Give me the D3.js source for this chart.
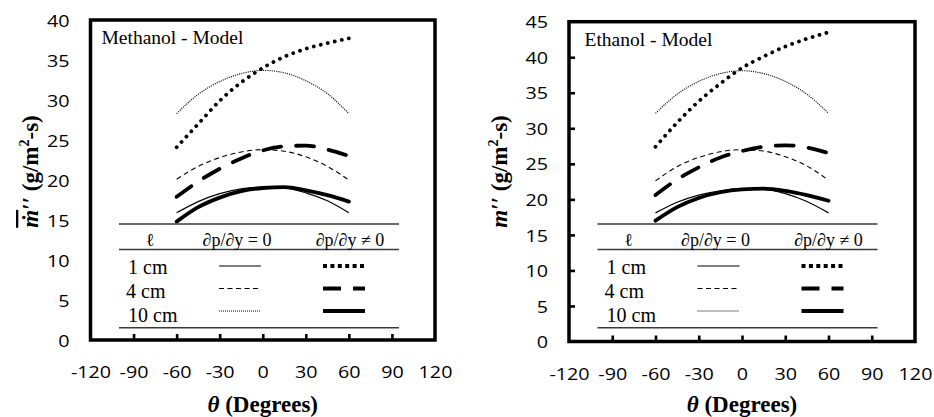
<!DOCTYPE html>
<html><head><meta charset="utf-8">
<script src="https://cdn.jsdelivr.net/npm/d3@7"></script>
<style>body{margin:0;background:#fff} svg{display:block}</style>
</head><body><svg id="c" width="934" height="417"></svg>
<script>
// ---------- data ----------
const angles = [-60, -45, -30, -15, 0, 15, 30, 45, 60];
const xTickValues = [-120, -90, -60, -30, 0, 30, 60, 90, 120];
const methanolYTicks = [0, 5, 10, 15, 20, 25, 30, 35, 40];
const ethanolYTicks = [0, 5, 10, 15, 20, 25, 30, 35, 40, 45];
const panelNames = ["Methanol - Model", "Ethanol - Model"];
const lengthLabels = ["1 cm", "4 cm", "10 cm"];
const legendHeaders = ["\u2113", "\u2202p/\u2202y = 0", "\u2202p/\u2202y \u2260 0"];

// Methanol: dp/dy = 0 (thin) and dp/dy != 0 (thick)
const meZero1  = [15.9, 17.3, 18.3, 18.9, 19.1, 19.0, 18.4, 17.4, 15.9];
const meZero4  = [20.1, 21.7, 22.8, 23.5, 23.8, 23.6, 22.9, 21.7, 20.0];
const meZero10 = [28.3, 30.7, 32.3, 33.3, 33.7, 33.4, 32.4, 30.8, 28.3];
const meGrad1  = [24.1, 27.0, 29.9, 32.2, 34.0, 35.4, 36.4, 37.1, 37.7];
const meGrad4  = [17.9, 19.8, 21.4, 22.7, 23.7, 24.2, 24.3, 23.8, 23.0];
const meGrad10 = [14.8, 16.6, 17.8, 18.6, 19.0, 19.1, 18.7, 18.1, 17.3];

// Ethanol
const etZero1  = [18.1, 19.6, 20.6, 21.2, 21.5, 21.4, 20.8, 19.7, 18.1];
const etZero4  = [22.6, 24.6, 25.9, 26.7, 27.0, 26.8, 26.0, 24.7, 22.7];
const etZero10 = [32.1, 34.8, 36.6, 37.7, 38.1, 37.7, 36.6, 34.8, 32.1];
const etGrad1  = [27.4, 30.8, 33.8, 36.3, 38.5, 40.1, 41.5, 42.6, 43.5];
const etGrad4  = [20.6, 22.8, 24.5, 25.9, 26.8, 27.4, 27.6, 27.3, 26.5];
const etGrad10 = [17.0, 18.9, 20.2, 21.0, 21.4, 21.5, 21.2, 20.6, 19.8];

// ---------- styles ----------
const seriesStyle = {
  z1:  {w: 1.2, dash: null, cap: "butt", legendDash: null},
  z4:  {w: 1.1, dash: "5 3.5", cap: "butt", legendDash: "5 3.5"},
  z10: {w: 1.1, dash: "1.1 1.1", cap: "butt", legendDash: "1 1"},
  g1:  {w: 3.8, dash: "0.01 7.2", cap: "round", legendDash: "4 3.4"},
  g4:  {w: 3.8, dash: "18 15", cap: "round", legendDash: "18 12"},
  g10: {w: 3.8, dash: null, cap: "round", legendDash: null}
};
const legendRows = [["z1", "g1"], ["z4", "g4"], ["z10", "g10"]];

const serif = "'Liberation Serif','Times New Roman',serif";
const sans = "'Open Sans','Liberation Sans',sans-serif";
const tickScaleX = 1.16;

const panels = [
  {name: panelNames[0], x0: 90.5, x1: 435, yTop: 20, yBot: 340, yMax: 40, yTicks: methanolYTicks,
   yTickInner: 0, titleX: 38, bar: true, labelX: 101.5, labelY: 44,
   series: {z1: meZero1, z4: meZero4, z10: meZero10, g1: meGrad1, g4: meGrad4, g10: meGrad10}},
  {name: panelNames[1], x0: 569, x1: 915, yTop: 21.7, yBot: 341.5, yMax: 45, yTicks: ethanolYTicks,
   yTickInner: -6, titleX: 507, bar: false, labelX: 584.5, labelY: 46,
   series: {z1: etZero1, z4: etZero4, z10: etZero10, g1: etGrad1, g4: etGrad4, g10: etGrad10}}
];

const svg = d3.select("#c");
svg.append("rect").attr("width", 934).attr("height", 417).attr("fill", "#fff");

panels.forEach(p => {
  const g = svg.append("g");
  const x = d3.scaleLinear().domain([-120, 120]).range([p.x0, p.x1]);
  const y = d3.scaleLinear().domain([0, p.yMax]).range([p.yBot, p.yTop]);

  // x axis
  const xa = g.append("g").attr("transform", `translate(0,${p.yBot})`)
    .call(d3.axisBottom(x).tickValues(xTickValues).tickSizeInner(-6).tickSizeOuter(0).tickPadding(26).tickFormat(d => String(d)));
  xa.select(".domain").remove();
  xa.selectAll(".tick line").attr("stroke", "#000").attr("stroke-width", 2.6);
  xa.selectAll(".tick text").attr("font-family", sans).attr("font-size", 17).attr("fill", "#000")
    .attr("transform", `scale(${tickScaleX},1)`);
  xa.selectAll(".tick").filter(d => d === -120 || d === 120).select("line").remove();

  // y axis
  const ya = g.append("g").attr("transform", `translate(${p.x0},0)`)
    .call(d3.axisLeft(y).tickValues(p.yTicks).tickSizeInner(p.yTickInner).tickSizeOuter(0).tickPadding(21).tickFormat(d => String(d)));
  ya.select(".domain").remove();
  ya.selectAll(".tick line").attr("stroke", "#000").attr("stroke-width", 2.6);
  ya.selectAll(".tick text").attr("font-family", sans).attr("font-size", 17).attr("fill", "#000").attr("dy", "0.36em")
    .attr("x", 0).attr("transform", `translate(-21,0) scale(${tickScaleX},1)`);
  ya.selectAll(".tick").filter(d => d === 0 || d === p.yMax).select("line").remove();

  // frame
  g.append("rect").attr("x", p.x0).attr("y", p.yTop).attr("width", p.x1 - p.x0).attr("height", p.yBot - p.yTop)
    .attr("fill", "none").attr("stroke", "#000").attr("stroke-width", 3.5);

  // curves
  const line = d3.line().x((d, i) => x(angles[i])).y(d => y(d)).curve(d3.curveMonotoneX);
  ["z10", "z4", "z1", "g4", "g10", "g1"].forEach(k => {
    const s = seriesStyle[k];
    g.append("path").datum(p.series[k]).attr("d", line).attr("fill", "none")
      .attr("stroke", "#000").attr("stroke-width", s.w).attr("stroke-linecap", s.cap)
      .attr("stroke-dasharray", s.dash);
  });

  // panel label
  g.append("text").attr("x", p.labelX).attr("y", p.labelY).attr("font-family", serif).attr("font-size", 19.5)
    .text(p.name);

  // legend table
  const L0 = p.x0 + 28.5, L1 = L0 + 280;
  [224, 249.5, 327.7].forEach(yy => g.append("line").attr("x1", L0).attr("x2", L1).attr("y1", yy).attr("y2", yy)
    .attr("stroke", "#3a3a3a").attr("stroke-width", 1.6));
  const hx = [L0 + 31, L0 + 118, L0 + 231];
  legendHeaders.forEach((t, i) => g.append("text").attr("x", hx[i]).attr("y", 246).attr("text-anchor", "middle")
    .attr("font-family", serif).attr("font-size", 18).text(t));
  const rowBase = [273.5, 297.5, 322], rowLine = [266, 288.5, 311];
  lengthLabels.forEach((t, i) => {
    g.append("text").attr("x", L0 + 9 - (i === 1 ? 2 : 0)).attr("y", rowBase[i]).attr("font-family", serif)
      .attr("font-size", 20).text(t);
    legendRows[i].forEach((k, j) => {
      const s = seriesStyle[k];
      const a = j === 0 ? L0 + 100 : L0 + 204;
      g.append("line").attr("x1", a).attr("x2", a + 42).attr("y1", rowLine[i]).attr("y2", rowLine[i])
        .attr("stroke", "#000").attr("stroke-width", j === 0 ? 1.2 : 4).attr("stroke-dasharray", s.legendDash);
    });
  });

  // x title
  const xt = g.append("text").attr("x", x(0)).attr("y", 412).attr("text-anchor", "middle")
    .attr("font-family", serif).attr("font-size", 23).attr("font-weight", "bold");
  xt.append("tspan").attr("font-style", "italic").text("\u03b8");
  xt.append("tspan").text(" (Degrees)");

  // y title
  const yt = g.append("text").attr("transform", `translate(${p.titleX},${171.5}) rotate(-90)`)
    .attr("text-anchor", "middle").attr("font-family", serif).attr("font-size", 23).attr("font-weight", "bold");
  if (p.bar) {
    yt.append("tspan").attr("font-style", "italic").style("text-decoration", "overline").text("m\u0307");
  } else {
    yt.append("tspan").attr("font-style", "italic").text("m");
  }
  yt.append("tspan").attr("font-style", "italic").text("\u2032\u2032 ");
  yt.append("tspan").text("(g/m");
  yt.append("tspan").attr("font-size", 14).attr("dy", -9).text("2");
  yt.append("tspan").attr("dy", 9).text("-s)");
});
</script></body></html>
